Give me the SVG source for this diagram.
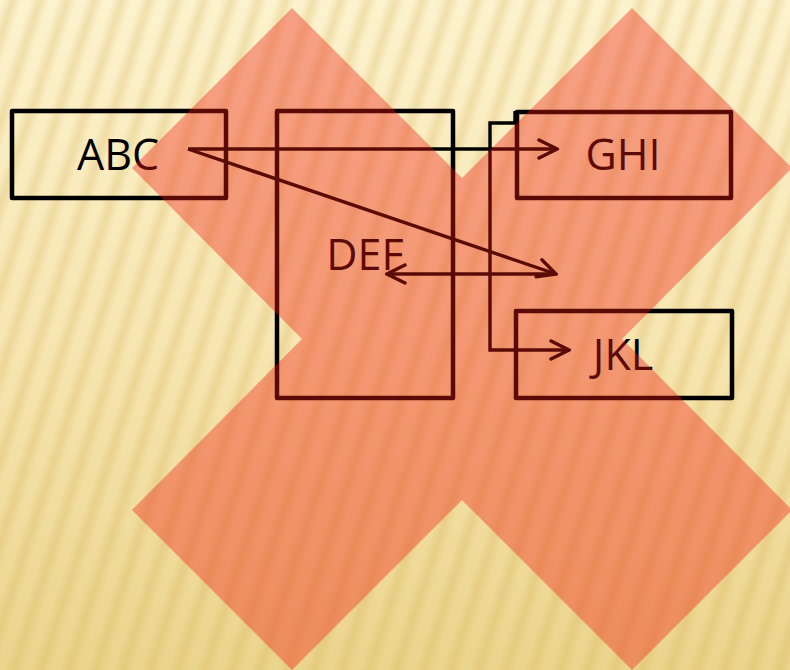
<svg xmlns="http://www.w3.org/2000/svg" width="790" height="670" viewBox="0 0 790 670">
  <defs>
    <!-- warm parchment backdrop, lighter at the top -->
    <linearGradient id="bgGrad" x1="0" y1="0" x2="0" y2="1">
      <stop offset="0" stop-color="#fcf2cd"/>
      <stop offset="0.5" stop-color="#f7e6b2"/>
      <stop offset="1" stop-color="#ebd48c"/>
    </linearGradient>
    <!-- soft shading for each stripe -->
    <linearGradient id="stripeGrad" x1="0" y1="0" x2="1" y2="0">
      <stop offset="0" stop-color="#d4b055" stop-opacity="0"/>
      <stop offset="0.5" stop-color="#d4b055" stop-opacity="0.28"/>
      <stop offset="1" stop-color="#d4b055" stop-opacity="0"/>
    </linearGradient>
    <pattern id="stripes" width="26" height="40" patternUnits="userSpaceOnUse" patternTransform="rotate(18)">
      <rect x="3" y="0" width="18" height="40" fill="url(#stripeGrad)"/>
    </pattern>
    <marker id="chevron" viewBox="-20 -11 22 22" refX="0" refY="0" markerWidth="22" markerHeight="22" markerUnits="userSpaceOnUse" orient="auto-start-reverse">
      <path d="M-18,-9 L0,0 L-18,9" fill="none" stroke="#000" stroke-width="3.4" stroke-linecap="round" stroke-linejoin="miter"/>
    </marker>
    <style>
      .box { fill: none; stroke: #000; stroke-width: 4.5; stroke-linejoin: round; }
      .label { font-family: "Open Sans", "Liberation Sans", sans-serif; font-size: 43px; fill: #000; text-anchor: middle; }
      .link { fill: none; stroke: #000; stroke-width: 3.4; stroke-linejoin: miter; }
      .cross { fill: #f01a10; fill-opacity: 0.38; }
    </style>
  </defs>

  <!-- background -->
  <rect x="0" y="0" width="790" height="670" fill="url(#bgGrad)"/>
  <rect x="0" y="0" width="790" height="670" fill="url(#stripes)"/>

  <!-- nodes -->
  <g id="node-abc">
    <rect class="box" x="12" y="111" width="214" height="87"/>
    <text class="label" x="118" y="170">ABC</text>
  </g>
  <g id="node-def">
    <rect class="box" x="277" y="111" width="176" height="287"/>
    <text class="label" x="365" y="270">DEF</text>
  </g>
  <g id="node-ghi">
    <rect class="box" x="517" y="112" width="214" height="86"/>
    <text class="label" x="623" y="170">GHI</text>
  </g>
  <g id="node-jkl">
    <rect class="box" x="516" y="311" width="216" height="87"/>
    <text class="label" x="623" y="370">JKL</text>
  </g>

  <!-- connectors -->
  <g id="connectors">
    <line class="link" x1="188" y1="149" x2="557" y2="149" marker-end="url(#chevron)"/>
    <line class="link" x1="188" y1="149" x2="556" y2="274" marker-end="url(#chevron)"/>
    <line class="link" x1="387" y1="274" x2="554" y2="274" marker-start="url(#chevron)"/>
    <path class="link" d="M515,111 V123 H490 V350 H569" marker-end="url(#chevron)"/>
  </g>

  <!-- translucent red cross laid over the whole drawing -->
  <polygon class="cross" points="292,8 462,178 632,8 792,168 622,339 792,510 632,670 462,500 292,670 132,510 302,339 132,168"/>
</svg>
